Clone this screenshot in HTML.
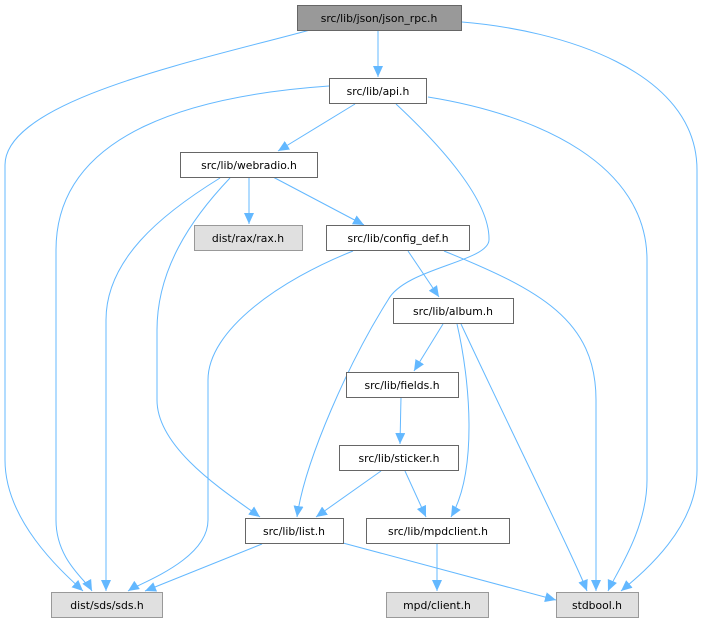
<!DOCTYPE html>
<html><head><meta charset="utf-8"><style>
html,body{margin:0;padding:0;background:#fff;width:705px;height:623px;overflow:hidden}
text{font-family:"DejaVu Sans","Liberation Sans",sans-serif;font-size:10.8px;fill:#000;text-anchor:middle}
</style></head><body>
<svg width="705" height="623" viewBox="0 0 705 623" xmlns="http://www.w3.org/2000/svg">
<defs><marker id="a" markerUnits="userSpaceOnUse" markerWidth="12" markerHeight="10" refX="11" refY="5" orient="auto"><path d="M0,0 L11,5 L0,10 Z" fill="#63b8ff"/></marker></defs>
<g fill="none" stroke="#63b8ff" stroke-width="1" marker-end="url(#a)">
<path d="M378,30 L378,77"/>
<path d="M310,30 C200,60 5,100 5,165 L5,460 C5,520 60,570 83,591"/>
<path d="M462,22 C560,30 697,70 697,170 L697,470 C697,530 640,575 621,591"/>
<path d="M355,104 L278,151"/>
<path d="M329,86 C200,95 56,130 56,250 L56,520 C56,560 86,580 92,591"/>
<path d="M396,104 C440,145 490,200 489,240 C488,262 405,268 388,300 C350,360 305,460 297,517"/>
<path d="M428,97 C540,115 647,165 647,260 L647,480 C647,530 615,575 608,591"/>
<path d="M249,177 L249,224"/>
<path d="M273,177 L364,225"/>
<path d="M220,178 C160,215 106,260 106,320 L106,591"/>
<path d="M230,178 C190,220 157,270 157,330 L157,400 C157,450 230,495 260,517"/>
<path d="M353,251 C280,280 208,330 208,380 L208,520 C208,560 140,583 128,591"/>
<path d="M408,251 L439,297"/>
<path d="M444,251 C540,290 596,320 596,400 L596,591"/>
<path d="M443,324 L414,371"/>
<path d="M457,324 C470,380 478,470 451,517"/>
<path d="M461,324 C520,450 575,560 587,591"/>
<path d="M401,397 L400,444"/>
<path d="M381,471 L316,517"/>
<path d="M405,471 L426,517"/>
<path d="M262,544 L145,591"/>
<path d="M343,543 L556,600"/>
<path d="M437,544 L437,591"/>
</g>
<g stroke-width="1">
<rect x="297.5" y="5.5" width="164" height="25" fill="#999" stroke="#666"/>
<rect x="329.5" y="78.5" width="97" height="25" fill="#fff" stroke="#666"/>
<rect x="180.5" y="152.5" width="137" height="25" fill="#fff" stroke="#666"/>
<rect x="194.5" y="225.5" width="108" height="25" fill="#e0e0e0" stroke="#999"/>
<rect x="326.5" y="225.5" width="143" height="25" fill="#fff" stroke="#666"/>
<rect x="393.5" y="298.5" width="120" height="25" fill="#fff" stroke="#666"/>
<rect x="346.5" y="372.5" width="112" height="25" fill="#fff" stroke="#666"/>
<rect x="339.5" y="445.5" width="119" height="25" fill="#fff" stroke="#666"/>
<rect x="245.5" y="518.5" width="98" height="25" fill="#fff" stroke="#666"/>
<rect x="366.5" y="518.5" width="143" height="25" fill="#fff" stroke="#666"/>
<rect x="51.5" y="592.5" width="111" height="25" fill="#e0e0e0" stroke="#999"/>
<rect x="386.5" y="592.5" width="102" height="25" fill="#e0e0e0" stroke="#999"/>
<rect x="556.5" y="592.5" width="82" height="25" fill="#e0e0e0" stroke="#999"/>
</g>
<text x="379" y="22">src/lib/json/json_rpc.h</text>
<text x="378" y="95">src/lib/api.h</text>
<text x="249" y="169">src/lib/webradio.h</text>
<text x="248" y="242">dist/rax/rax.h</text>
<text x="398" y="242">src/lib/config_def.h</text>
<text x="453" y="315">src/lib/album.h</text>
<text x="402" y="389">src/lib/fields.h</text>
<text x="399" y="462">src/lib/sticker.h</text>
<text x="294" y="535">src/lib/list.h</text>
<text x="438" y="535">src/lib/mpdclient.h</text>
<text x="107" y="609">dist/sds/sds.h</text>
<text x="437" y="609">mpd/client.h</text>
<text x="597" y="609">stdbool.h</text>
</svg>
</body></html>
